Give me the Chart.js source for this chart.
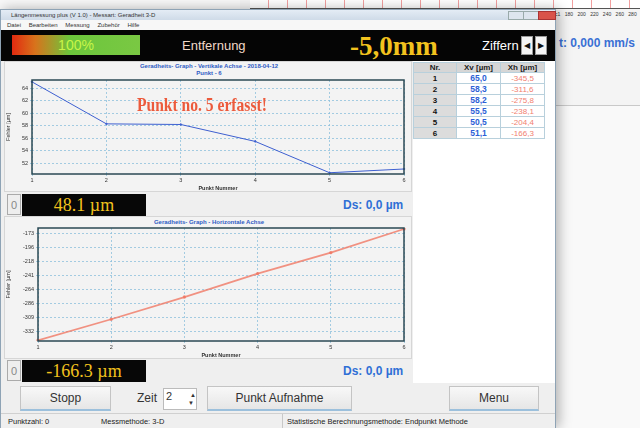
<!DOCTYPE html>
<html>
<head>
<meta charset="utf-8">
<script src="https://cdn.jsdelivr.net/npm/chart.js@4.4.0/dist/chart.umd.min.js"></script>
<style>
body{margin:0;width:640px;height:428px;overflow:hidden;background:#f9f9f9;font-family:Arial,"Liberation Sans",sans-serif;position:relative}
.a{position:absolute}
#back{left:240px;top:0;width:400px;height:105px;background:#f4f4f4;border-bottom:1px solid #c9c9c9}
#backplot{left:250px;top:0;width:390px;height:8px;background-color:#fff;border-bottom:1px solid #555;
  background-image:repeating-linear-gradient(90deg,transparent 0 18px,#f2a0a0 18px 19px);}
#win{left:0;top:9px;width:556px;height:419px;background:#efefef;border:1px solid #8ea3b5;box-shadow:3px 0 12px rgba(0,0,0,.3);box-sizing:border-box}
#titlebar{left:1px;top:10px;width:554px;height:10px;background:linear-gradient(#e4ecf5,#cfdbe8);font-size:6px;color:#333;line-height:10px;text-indent:10px}
#menu{left:1px;top:20px;width:554px;height:10px;background:#f7f7f7;font-size:6px;color:#333;line-height:10px;text-indent:6px;word-spacing:6px}
#band{left:1px;top:30px;width:554px;height:31px;background:#050505}
#prog{left:12px;top:35px;width:128px;height:20px;background:linear-gradient(90deg,#e22a10 0,#d8731c 18%,#6cc63c 45%,#7ac843 100%);font-size:14px;color:#c8f548;text-align:center;line-height:20px}
.lbl{color:#f2d8c8;font-size:13px}
#wert{left:350px;top:31px;font-family:"Liberation Serif","DejaVu Serif",serif;font-weight:bold;color:#f2c21e;font-size:27px;line-height:30px}
.arr{top:36px;width:12px;height:19px;background:#f4f4f4;border:1px solid #999;box-sizing:border-box;font-size:8px;line-height:18px;text-align:center;color:#111}
#panel{left:1px;top:61px;width:412px;height:322px;background:#efefef}
#tabwhite{left:413px;top:61px;width:142px;height:322px;background:#fff}
.ctitle{width:410px;text-align:center;font-size:6px;font-weight:bold;color:#2f5cc4;line-height:7px}
.cbox{border:1px solid #d6d6d6;box-sizing:border-box;background:#f3f3f3}
.zero{width:14px;height:21px;background:#eee;border:1px solid #aaa;box-sizing:border-box;font-size:11px;color:#888;text-align:center;line-height:20px}
.disp{width:124px;height:22px;background:#070707;color:#f2c21e;font-family:"Liberation Serif","DejaVu Serif",serif;font-size:18px;line-height:22px;text-align:center}
.ds{font-size:12px;font-weight:bold;color:#2f6fd6}
table{border-collapse:collapse;font-size:8px}
td,th{border:1px solid #b8d0dc;height:8.5px;padding:0;text-align:center}
th{background:#d6d6d6;color:#222;height:9px}
td.nr{background:#dcdcdc;font-weight:bold;color:#111}
td.xv{color:#2c5fd6;font-weight:bold;font-size:8.5px}
td.xh{color:#f1806f;font-size:8px}
.btn{top:386px;height:25px;background:linear-gradient(#f8f8f8,#e6e6e6);border:1px solid #c4c4c4;border-bottom:2px solid #9cc0dc;box-sizing:border-box;font-size:12px;color:#333;text-align:center;line-height:22px}
#status{left:1px;top:413px;width:554px;height:15px;background:#efefef;border-top:1px solid #d0d0d0;font-size:7.5px;color:#222;line-height:15px}
.sep{top:414px;width:1px;height:14px;background:#c8c8c8}
</style>
</head>
<body>
<div id="back" class="a"></div>
<div id="backplot" class="a"></div>
<div class="a" style="left:555px;top:11px;font-size:5px;color:#333;word-spacing:3px">c1 180 200 220 240 260 280</div>
<div class="a" style="left:559px;top:36px;font-size:12px;font-weight:bold;color:#3a70d4">t: 0,000 mm/s</div>

<div id="win" class="a"></div>
<div id="titlebar" class="a">Längenmessung plus (V 1.0) - Messart: Geradheit 3-D</div>
<div class="a" style="left:508px;top:11px;width:14px;height:7px;background:#dde5ee;border:1px solid #9aa"></div>
<div class="a" style="left:523px;top:11px;width:14px;height:7px;background:#dde5ee;border:1px solid #9aa"></div>
<div class="a" style="left:538px;top:11px;width:16px;height:7px;background:#d9534a;border:1px solid #a33"></div>
<div id="menu" class="a">Datei Bearbeiten Messung Zubehör Hilfe</div>
<div id="band" class="a"></div>
<div id="prog" class="a">100%</div>
<div class="a lbl" style="left:182px;top:38px">Entfernung</div>
<div id="wert" class="a">-5,0mm</div>
<div class="a lbl" style="left:482px;top:38px;color:#fff">Ziffern</div>
<div class="a arr" style="left:521px">&#9664;</div>
<div class="a arr" style="left:535px">&#9654;</div>

<div id="panel" class="a"></div>
<div id="tabwhite" class="a"></div>
<div class="a" id="tab" style="left:413px;top:62px"></div>

<div class="a cbox" style="left:4px;top:61px;width:408px;height:131px"></div>
<div class="a ctitle" style="left:4px;top:63px">Geradheits- Graph - Vertikale Achse - 2018-04-12<br>Punkt - 6</div>
<div class="a" style="left:5px;top:61px;width:405px;height:131px"><canvas id="c1"></canvas></div>
<div class="a" style="left:137px;top:94px;font-family:'Liberation Serif',serif;font-weight:bold;font-size:19px;color:#ec5a3c;transform:scaleX(0.82);transform-origin:left top;white-space:nowrap">Punkt no. 5 erfasst!</div>

<div class="a zero" style="left:7px;top:194px">0</div>
<div class="a disp" style="left:22px;top:194px">48.1 µm</div>
<div class="a ds" style="left:343px;top:198px">Ds: 0,0 µm</div>

<div class="a cbox" style="left:4px;top:216px;width:408px;height:143px"></div>
<div class="a ctitle" style="left:4px;top:219px">Geradheits- Graph - Horizontale Achse</div>
<div class="a" style="left:5px;top:216px;width:405px;height:143px"><canvas id="c2"></canvas></div>

<div class="a zero" style="left:7px;top:360px">0</div>
<div class="a disp" style="left:22px;top:360px">-166.3 µm</div>
<div class="a ds" style="left:343px;top:364px">Ds: 0,0 µm</div>

<div class="a btn" style="left:20px;width:91px">Stopp</div>
<div class="a" style="left:137px;top:391px;font-size:12px;color:#333">Zeit</div>
<div class="a" style="left:163px;top:388px;width:34px;height:22px;background:#fff;border:1px solid #bbb;box-sizing:border-box;font-size:11px;line-height:14px;text-indent:2px;color:#333">2<span style="position:absolute;left:24px;top:2px;font-size:6px;line-height:8px">▲<br>▼</span></div>
<div class="a btn" style="left:207px;width:145px">Punkt Aufnahme</div>
<div class="a btn" style="left:449px;width:90px">Menu</div>

<div id="status" class="a"><span class="a" style="left:7px">Punktzahl: 0</span><span class="a" style="left:100px">Messmethode: 3-D</span><span class="a" style="left:286px">Statistische Berechnungsmethode: Endpunkt Methode</span></div>
<div class="a sep" style="left:282px"></div>

<script>
var pointNr = ['1', '2', '3', '4', '5', '6'];
var xvValues = [65.0, 58.3, 58.2, 55.5, 50.5, 51.1];
var xhValues = [-345.5, -311.6, -275.8, -238.1, -204.4, -166.3];
var xvTicks = [52, 54, 56, 58, 60, 62, 64];
var xhTicks = [-173, -196, -218, -241, -264, -286, -309, -332];

// table on the right
var html = '<table><tr><th style="width:42px">Nr.</th><th style="width:43px">Xv [µm]</th><th style="width:43px">Xh [µm]</th></tr>';
for (var i = 0; i < pointNr.length; i++) {
    html += '<tr><td class="nr">' + pointNr[i] + '</td><td class="xv">' + xvValues[i].toFixed(1).replace('.', ',') +
        '</td><td class="xh">' + xhValues[i].toFixed(1).replace('.', ',') + '</td></tr>';
}
document.getElementById('tab').innerHTML = html + '</table>';

var frame = {
    id: 'frame',
    afterDraw: function (chart) {
        var a = chart.chartArea, ctx = chart.ctx;
        ctx.save();
        ctx.strokeStyle = '#2b4954';
        ctx.lineWidth = 1.5;
        ctx.strokeRect(a.left, a.top, a.right - a.left, a.bottom - a.top);
        ctx.restore();
    }
};

function makeChart(id, values, ticks, min, max, color, width, padTop, yWidth) {
    return new Chart(document.getElementById(id), {
        type: 'line',
        data: {
            labels: pointNr,
            datasets: [{
                data: values,
                borderColor: color,
                backgroundColor: color,
                borderWidth: width,
                pointRadius: 0.8,
                tension: 0
            }]
        },
        options: {
            responsive: true,
            maintainAspectRatio: false,
            animation: false,
            layout: { padding: { top: padTop, right: 6, left: 0, bottom: 0 } },
            plugins: { legend: { display: false }, tooltip: { enabled: false } },
            scales: {
                x: {
                    offset: false,
                    afterFit: function (s) { s.height = 18; },
                    grid: { color: '#8fc0dc', lineWidth: 0.8, drawTicks: true, tickLength: 2 },
                    border: { display: false, dash: [2, 2] },
                    ticks: { color: '#333', font: { size: 5.5 }, padding: 1, maxRotation: 0 },
                    title: { display: true, text: 'Punkt Nummer', color: '#333', font: { size: 5.5, weight: 'bold' }, padding: 0 }
                },
                y: {
                    min: min,
                    max: max,
                    afterFit: function (s) { s.width = yWidth; },
                    afterBuildTicks: function (s) { s.ticks = ticks.map(function (v) { return { value: v }; }); },
                    grid: { color: '#8fc0dc', lineWidth: 0.8, tickLength: 2 },
                    border: { display: false, dash: [2, 2] },
                    ticks: { color: '#333', font: { size: 5.5 }, padding: 2 },
                    title: { display: true, text: 'Fehler [µm]', color: '#333', font: { size: 5.5 }, padding: 0 }
                }
            }
        },
        plugins: [frame]
    });
}

makeChart('c1', xvValues, xvTicks, 50.3, 65.3, '#3d5fd0', 1, 19, 27);
makeChart('c2', xhValues, xhTicks, -346.6, -164.7, 'rgba(240,120,100,0.8)', 1.8, 12, 33);
</script>
</body>
</html>
